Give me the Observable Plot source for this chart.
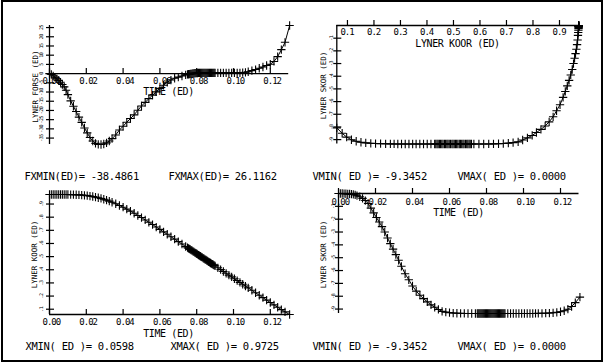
<!DOCTYPE html>
<html>
<head>
<meta charset="utf-8">
<script src="https://cdn.jsdelivr.net/npm/d3@7"></script>
<script src="https://cdn.jsdelivr.net/npm/@observablehq/plot@0.6"></script>
<style>
  body { margin: 0; background: #fff; }
  #chart { position: relative; width: 605px; height: 364px; overflow: hidden; background: #fff; }
  #chart svg { position: absolute; }
  #frame { position: absolute; left: 1px; top: 0; width: 602px; height: 362px; border: 2px solid #000; box-sizing: border-box; pointer-events: none; z-index: 5; }
  g[font-size="9"] text { letter-spacing: -1px; }
  g[font-size="10"] text { letter-spacing: -0.4px; }
  g[font-size="10.5"] text { letter-spacing: -0.3px; }
  g[font-size="5"] text { letter-spacing: -0.5px; }
</style>
</head>
<body>
<div id="chart"><div id="frame"></div></div>
<script>
// ---- data ----
const time = [0,0.001,0.002,0.003,0.004,0.005,0.006,0.007,0.008,0.009,0.010,
  0.0115,0.013,0.0145,0.016,0.0175,0.019,0.0205,0.022,0.0235,0.025,0.0265,0.028,0.0295,0.031,0.0325,0.034,
  0.036,0.038,0.040,0.042,0.044,0.046,0.048,0.050,0.052,0.054,0.056,0.058,0.060,0.062,0.064,0.066,0.068,0.070,0.072,0.074,
  0.0750,0.0755,0.0760,0.0765,0.0770,0.0775,0.0780,0.0785,0.0790,0.0795,0.0800,0.0805,0.0810,0.0815,0.0820,0.0825,
  0.0830,0.0835,0.0840,0.0845,0.0850,0.0855,0.0860,0.0865,0.0870,0.0875,0.0880,0.0885,0.0890,0.0895,0.0900,
  0.0915,0.093,0.0945,0.096,0.0975,0.099,0.1005,0.102,0.1035,0.105,0.1065,0.108,
  0.110,0.112,0.114,0.116,0.118,0.120,0.122,0.124,0.126,0.128,0.1305];

const force = [0,-0.5,-1.2,-1.9,-2.8,-3.7,-4.7,-5.9,-7.2,-9.0,-11.4,
  -14.8,-17.7,-20.6,-23.6,-26.5,-29.5,-32.2,-34.7,-36.6,-37.9,-38.4,-38.49,-38.2,-37.6,-36.6,-35.3,
  -33.3,-30.6,-28.6,-26.4,-24.4,-22.4,-19.9,-17.6,-15.6,-13.6,-11.7,-9.9,-8.0,-6.3,-4.7,-3.5,-2.5,-1.9,-1.3,-0.7,
  -0.45,-0.37,-0.3,-0.2,-0.1,0,0.1,0.15,0.2,0.25,0.3,0.35,0.4,0.4,0.4,0.4,
  0.4,0.4,0.4,0.4,0.4,0.4,0.4,0.4,0.4,0.4,0.4,0.4,0.4,0.4,0.4,
  0.4,0.4,0.4,0.4,0.4,0.4,0.4,0.4,0.4,0.5,0.7,1.0,
  1.6,2.2,2.9,3.6,4.4,5.1,6.6,9.2,13.0,17.0,26.1];

const koor = [0.9725,0.9725,0.9725,0.9725,0.9725,0.9725,0.9725,0.9725,0.9724,0.9723,0.9722,
  0.9719,0.9714,0.9707,0.9697,0.9683,0.9663,0.9637,0.9606,0.9570,0.9529,0.9480,0.9425,0.9363,0.9294,0.9219,0.9136,
  0.902,0.889,0.876,0.861,0.846,0.830,0.813,0.797,0.779,0.761,0.744,0.725,0.707,0.688,0.670,0.651,0.633,0.614,0.596,0.577,
  0.568,0.5633,0.559,0.5543,0.550,0.5453,0.540,0.5357,0.531,0.5263,0.522,0.5167,0.512,0.5077,0.503,0.4983,
  0.494,0.4887,0.484,0.4793,0.475,0.4703,0.466,0.4607,0.456,0.4513,0.447,0.4423,0.438,0.4333,0.429,
  0.415,0.401,0.387,0.373,0.359,0.346,0.332,0.318,0.304,0.290,0.276,0.262,
  0.244,0.225,0.206,0.188,0.169,0.151,0.133,0.115,0.097,0.080,0.0598];

const skor = [0,0,0,-0.01,-0.02,-0.03,-0.04,-0.05,-0.07,-0.11,-0.17,
  -0.25,-0.38,-0.55,-0.78,-1.14,-1.51,-1.87,-2.22,-2.58,-3.00,-3.47,-3.90,-4.33,-4.76,-5.20,-5.67,
  -6.25,-6.72,-7.20,-7.60,-7.92,-8.19,-8.44,-8.67,-8.86,-9.03,-9.18,-9.24,-9.28,-9.31,-9.325,-9.335,-9.34,-9.343,-9.344,-9.345,
  -9.345,-9.345,-9.345,-9.345,-9.345,-9.345,-9.345,-9.345,-9.345,-9.345,-9.345,-9.345,-9.345,-9.345,-9.345,-9.345,
  -9.345,-9.345,-9.345,-9.345,-9.345,-9.345,-9.345,-9.345,-9.345,-9.345,-9.345,-9.345,-9.345,-9.345,-9.345,
  -9.345,-9.345,-9.345,-9.345,-9.345,-9.345,-9.345,-9.345,-9.345,-9.343,-9.34,-9.337,
  -9.33,-9.32,-9.31,-9.29,-9.26,-9.21,-9.13,-9.01,-8.80,-8.50,-8.07];

const timeRange = [0, 0.13];
const forceRange = [-38.4861, 26.1162];
const koorRange = [0.0598, 0.9725];
const skorRange = [-9.3452, 0.0000];

const timeTicks = [0, 0.02, 0.04, 0.06, 0.08, 0.10, 0.12];
const timeTickLabels = ["0.00", "0.02", "0.04", "0.06", "0.08", "0.10", "0.12"];
const koorTicks = [0.1, 0.2, 0.3, 0.4, 0.5, 0.6, 0.7, 0.8, 0.9];
const koorTickLabels = ["0.1", "0.2", "0.3", "0.4", "0.5", "0.6", "0.7", "0.8", "0.9"];
const koorAxisLabels = [".1", ".2", ".3", ".4", ".5", ".6", ".7", ".8", ".9"];
const forceTicks = [25, 20, 15, 10, 5, 0, -5, -10, -15, -20, -25, -30, -35];
const forceTickLabels = ["25", "20", "15", "10", "5", "0", "-5", "-10", "-15", "-20", "-25", "-30", "-35"];
const skorTicks = [-1, -2, -3, -4, -5, -6, -7, -8, -9];
const skorTickLabels = ["-1", "-2", "-3", "-4", "-5", "-6", "-7", "-8", "-9"];

const titleTime = "TIME (ED)";
const titleForce = "LYNER FORSE (ED)";
const titleKoor = "LYNER KOOR (ED)";
const titleSkor = "LYNER SKOR (ED)";
const statsForce = ["FXMIN(ED)= -38.4861", "FXMAX(ED)= 26.1162"];
const statsSkor = ["VMIN( ED )= -9.3452", "VMAX( ED )= 0.0000"];
const statsKoor = ["XMIN( ED )= 0.0598", "XMAX( ED )= 0.9725"];

const rows = time.map((t, i) => ({t, f: force[i], x: koor[i], v: skor[i]}));

const MONO = "'DejaVu Sans Mono', 'Liberation Mono', monospace";
const INK = "#000";

function panel(o) {
  const [x0, x1] = o.xDomain, [y0, y1] = o.yDomain;
  const at = (px, py) => ({frameAnchor: "top-left", dx: px - o.ml, dy: py - o.mt});
  const svg = Plot.plot({
    width: o.width, height: o.height,
    marginLeft: o.ml, marginRight: o.mr, marginTop: o.mt, marginBottom: o.mb,
    x: {domain: o.xDomain, axis: null, nice: false},
    y: {domain: o.yDomain, axis: null, nice: false},
    style: {fontFamily: MONO, background: "transparent", color: INK},
    marks: [
      Plot.ruleY([o.xAxisAt], {y: d => d, x1: () => x0, x2: () => x1, stroke: INK, strokeWidth: 1.3}),
      Plot.ruleX([o.yAxisAt], {x: d => d, y1: () => y0, y2: () => y1, stroke: INK, strokeWidth: 1.3}),
      Plot.ruleX(o.xTicks, {x: d => d, y1: () => o.xAxisAt, y2: () => o.xAxisAt, insetTop: -5, insetBottom: 0, stroke: INK, strokeWidth: 1.2}),
      Plot.text(o.xTicks, {x: d => d, y: () => o.xAxisAt, text: (d, i) => o.xTickLabels[i], dx: -7, dy: o.xLabelDy,
        textAnchor: "start", lineAnchor: "middle", fontSize: 9, fill: INK}),
      Plot.ruleY(o.yTicks, {y: d => d, x1: () => o.yAxisAt, x2: () => o.yAxisAt, insetLeft: -3, insetRight: -5, stroke: INK, strokeWidth: 1.2}),
      Plot.text(o.yTicks, {y: d => d, x: () => o.yAxisAt, text: (d, i) => o.yTickLabels[i], dx: o.yLabelDx, rotate: -90,
        textAnchor: "middle", lineAnchor: "middle", fontSize: 5, fill: INK}),
      Plot.line(rows, {x: o.xKey, y: o.yKey, stroke: INK, strokeWidth: 1}),
      Plot.dot(rows, {x: o.xKey, y: o.yKey, symbol: "plus", r: 2.8, stroke: INK, strokeWidth: 1.1}),
      Plot.text([o.xTitle], {...at(o.xTitlePos[0], o.xTitlePos[1]), textAnchor: "middle", lineAnchor: "middle", fontSize: 10, fill: INK}),
      Plot.text([o.yTitle], {...at(o.yTitlePos[0], o.yTitlePos[1]), rotate: -90, textAnchor: "middle", lineAnchor: "middle", fontSize: 7.5, fill: INK}),
      Plot.text([o.stats[0]], {...at(o.statsPos[0][0], o.statsPos[0][1]), textAnchor: "start", lineAnchor: "middle", fontSize: 10.5, fill: INK}),
      Plot.text([o.stats[1]], {...at(o.statsPos[1][0], o.statsPos[1][1]), textAnchor: "start", lineAnchor: "middle", fontSize: 10.5, fill: INK})
    ]
  });
  svg.style.left = o.left + "px";
  svg.style.top = o.top + "px";
  document.getElementById("chart").appendChild(svg);
}

panel({left: 0, top: 0, width: 302, height: 182, ml: 49, mr: 13.8, mt: 25, mb: 38,
  xDomain: timeRange, yDomain: forceRange, xKey: "t", yKey: "f",
  xAxisAt: 0, yAxisAt: 0, xLabelDy: 8, yLabelDx: -8.5,
  xTicks: timeTicks, xTickLabels: timeTickLabels, yTicks: forceTicks, yTickLabels: forceTickLabels,
  xTitle: titleTime, xTitlePos: [168, 91], yTitle: titleForce, yTitlePos: [35, 86],
  stats: statsForce, statsPos: [[24, 176], [168, 176]]});

panel({left: 302, top: 0, width: 303, height: 182, ml: 34.3, mr: 26.8, mt: 25, mb: 38.5,
  xDomain: koorRange, yDomain: skorRange, xKey: "x", yKey: "v",
  xAxisAt: 0, yAxisAt: koorRange[0], xLabelDy: 7, yLabelDx: -5.5,
  xTicks: koorTicks, xTickLabels: koorTickLabels, yTicks: skorTicks, yTickLabels: skorTickLabels,
  xTitle: titleKoor, xTitlePos: [155, 43], yTitle: titleSkor, yTitlePos: [21, 85],
  stats: statsSkor, statsPos: [[10, 176], [155, 176]]});

panel({left: 0, top: 182, width: 302, height: 182, ml: 49, mr: 13.8, mt: 12, mb: 50,
  xDomain: timeRange, yDomain: koorRange, xKey: "t", yKey: "x",
  xAxisAt: koorRange[0], yAxisAt: 0, xLabelDy: 8, yLabelDx: -8,
  xTicks: timeTicks, xTickLabels: timeTickLabels, yTicks: koorTicks, yTickLabels: koorAxisLabels,
  xTitle: titleTime, xTitlePos: [168, 151], yTitle: titleKoor, yTitlePos: [34, 72],
  stats: statsKoor, statsPos: [[25, 164], [170, 164]]});

panel({left: 302, top: 182, width: 303, height: 182, ml: 36, mr: 26.5, mt: 11, mb: 51,
  xDomain: timeRange, yDomain: skorRange, xKey: "t", yKey: "v",
  xAxisAt: 0, yAxisAt: 0, xLabelDy: 9, yLabelDx: -5.5,
  xTicks: timeTicks, xTickLabels: timeTickLabels, yTicks: skorTicks, yTickLabels: skorTickLabels,
  xTitle: titleTime, xTitlePos: [156, 30], yTitle: titleSkor, yTitlePos: [21, 72],
  stats: statsSkor, statsPos: [[10, 164], [155, 164]]});
</script>
</body>
</html>
